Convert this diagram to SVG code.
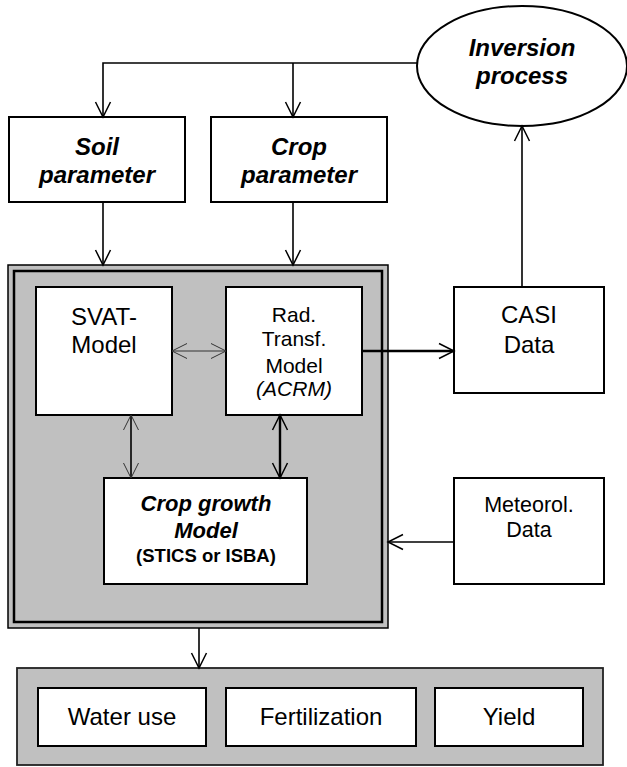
<svg xmlns="http://www.w3.org/2000/svg" width="627" height="767" viewBox="0 0 627 767">
<style>
.box{fill:#fff;stroke:#000;stroke-width:2}
.t{font-family:"Liberation Sans",Arial,sans-serif;text-anchor:middle;fill:#000}
.bi{font-weight:bold;font-style:italic}
.b{font-weight:bold}
.i{font-style:italic}
.ln{fill:none;stroke:#000;stroke-width:1.6}
.thin{fill:none;stroke:#333;stroke-width:1}
.thick{fill:none;stroke:#000;stroke-width:2.4}
</style>
<defs>
<marker id="a" markerUnits="userSpaceOnUse" orient="auto-start-reverse" refX="0" refY="0" markerWidth="20" markerHeight="20" style="overflow:visible"><path d="M-15,-7.5 L0,0 L-15,7.5" fill="none" stroke="#000" stroke-width="1.5"/></marker>
<marker id="at" markerUnits="userSpaceOnUse" orient="auto-start-reverse" refX="0" refY="0" markerWidth="20" markerHeight="20" style="overflow:visible"><path d="M-15,-7.5 L0,0 L-15,7.5" fill="none" stroke="#333" stroke-width="1"/></marker>
</defs>

<g id="main-frame">
<rect x="8" y="265" width="380" height="363" fill="#c0c0c0" stroke="#000" stroke-width="1.5"/>
<rect x="14" y="271" width="368" height="351" fill="none" stroke="#000" stroke-width="2.5"/>
</g>

<g id="output-frame">
<rect x="17" y="668" width="586" height="97" fill="#c0c0c0" stroke="#222" stroke-width="1.8"/>
</g>

<g id="inversion">
<ellipse cx="522" cy="66" rx="105" ry="60" fill="#fff" stroke="#000" stroke-width="2"/>
<text class="t bi" x="522" y="56" font-size="24">Inversion</text>
<text class="t bi" x="522" y="84" font-size="24">process</text>
</g>

<g id="soil">
<rect class="box" x="9" y="117" width="176" height="85" stroke-width="2.5"/>
<text class="t bi" x="97" y="155" font-size="24">Soil</text>
<text class="t bi" x="97" y="183" font-size="24">parameter</text>
</g>

<g id="crop">
<rect class="box" x="211" y="117" width="176" height="85" stroke-width="2.5"/>
<text class="t bi" x="299" y="155" font-size="24">Crop</text>
<text class="t bi" x="299" y="183" font-size="24">parameter</text>
</g>

<g id="svat">
<rect class="box" x="36" y="287" width="136" height="128"/>
<text class="t" x="104" y="325" font-size="24">SVAT-</text>
<text class="t" x="104" y="353" font-size="24">Model</text>
</g>

<g id="rad">
<rect class="box" x="226" y="287" width="136" height="128"/>
<text class="t" x="294" y="322" font-size="21">Rad.</text>
<text class="t" x="294" y="346" font-size="21">Transf.</text>
<text class="t" x="294" y="373" font-size="21">Model</text>
<text class="t i" x="294" y="396" font-size="21">(ACRM)</text>
</g>

<g id="cropgrowth">
<rect class="box" x="104" y="478" width="203" height="106"/>
<text class="t bi" x="206" y="511" font-size="22">Crop growth</text>
<text class="t bi" x="206" y="538" font-size="22">Model</text>
<text class="t b" x="206" y="562" font-size="18.5">(STICS or ISBA)</text>
</g>

<g id="casi">
<rect class="box" x="454" y="287" width="150" height="106"/>
<text class="t" x="529" y="323" font-size="24">CASI</text>
<text class="t" x="529" y="353" font-size="24">Data</text>
</g>

<g id="meteo">
<rect class="box" x="454" y="478" width="150" height="106"/>
<text class="t" x="529" y="512" font-size="21.5">Meteorol.</text>
<text class="t" x="529" y="537" font-size="21.5">Data</text>
</g>

<g id="wateruse">
<rect class="box" x="38" y="688" width="168" height="58"/>
<text class="t" x="122" y="725" font-size="24">Water use</text>
</g>

<g id="fertilization">
<rect class="box" x="226" y="688" width="190" height="58"/>
<text class="t" x="321" y="725" font-size="24">Fertilization</text>
</g>

<g id="yield">
<rect class="box" x="435" y="688" width="148" height="58"/>
<text class="t" x="509" y="725" font-size="24">Yield</text>
</g>

<g id="connectors">
<path class="ln" d="M417,63 H103 V117" marker-end="url(#a)"/>
<path class="ln" d="M293,63 V117" marker-end="url(#a)"/>
<path class="ln" d="M103,202 V265" marker-end="url(#a)"/>
<path class="ln" d="M293,202 V265" marker-end="url(#a)"/>
<path class="thin" d="M172,351 H226" marker-start="url(#at)" marker-end="url(#at)"/>
<path class="thick" d="M362,351 H454" marker-end="url(#a)"/>
<path class="ln" d="M522,287 V126" marker-end="url(#a)"/>
<path class="ln" d="M131,415 V478" marker-start="url(#at)" marker-end="url(#at)"/>
<path class="thick" d="M280,415 V478" marker-start="url(#a)" marker-end="url(#a)"/>
<path class="ln" d="M454,542 H388" marker-end="url(#a)"/>
<path class="ln" d="M199,628 V668" marker-end="url(#a)"/>
</g>
</svg>
